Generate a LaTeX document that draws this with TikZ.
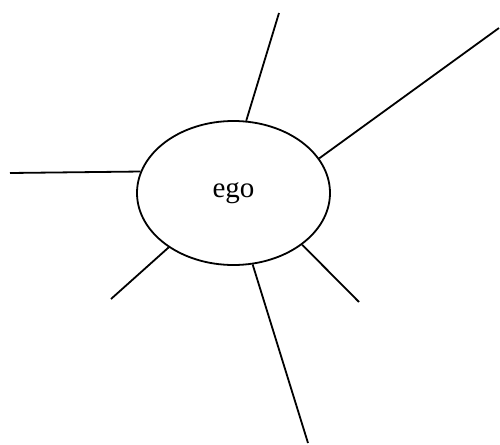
\documentclass[tikz,border=0pt]{standalone}
\usepackage{fontspec}
\setmainfont{Liberation Serif}
\usetikzlibrary{shapes.geometric}

\begin{document}
\begin{tikzpicture}[x=0.5pt, y=-0.5pt,
      self/.style={ellipse, draw, line width=0.9pt, inner sep=0pt,
        minimum width=96.5pt, minimum height=72pt,
        font=\fontsize{14.5}{17}\selectfont},
      tie/.style={line width=0.9pt}]
    \useasboundingbox (0,0) rectangle (500,445);
    \node[self] (ego) at (233.5,193) {ego};
    % outer ends of the ties
    \coordinate (t1) at (279,13);
    \coordinate (t2) at (499,28);
    \coordinate (t3) at (10,173);
    \coordinate (t4) at (111,299);
    \coordinate (t5) at (359,302);
    \coordinate (t6) at (308,443);
    \draw[tie] (ego.80) -- (t1);
    \draw[tie] (ego.22) -- (t2);
    \draw[tie] (ego.167) -- (t3);
    \draw[tie] (ego.220) -- (t4);
    \draw[tie] (ego.323) -- (t5);
    \draw[tie] (ego.285) -- (t6);
  \end{tikzpicture}
\end{document}
